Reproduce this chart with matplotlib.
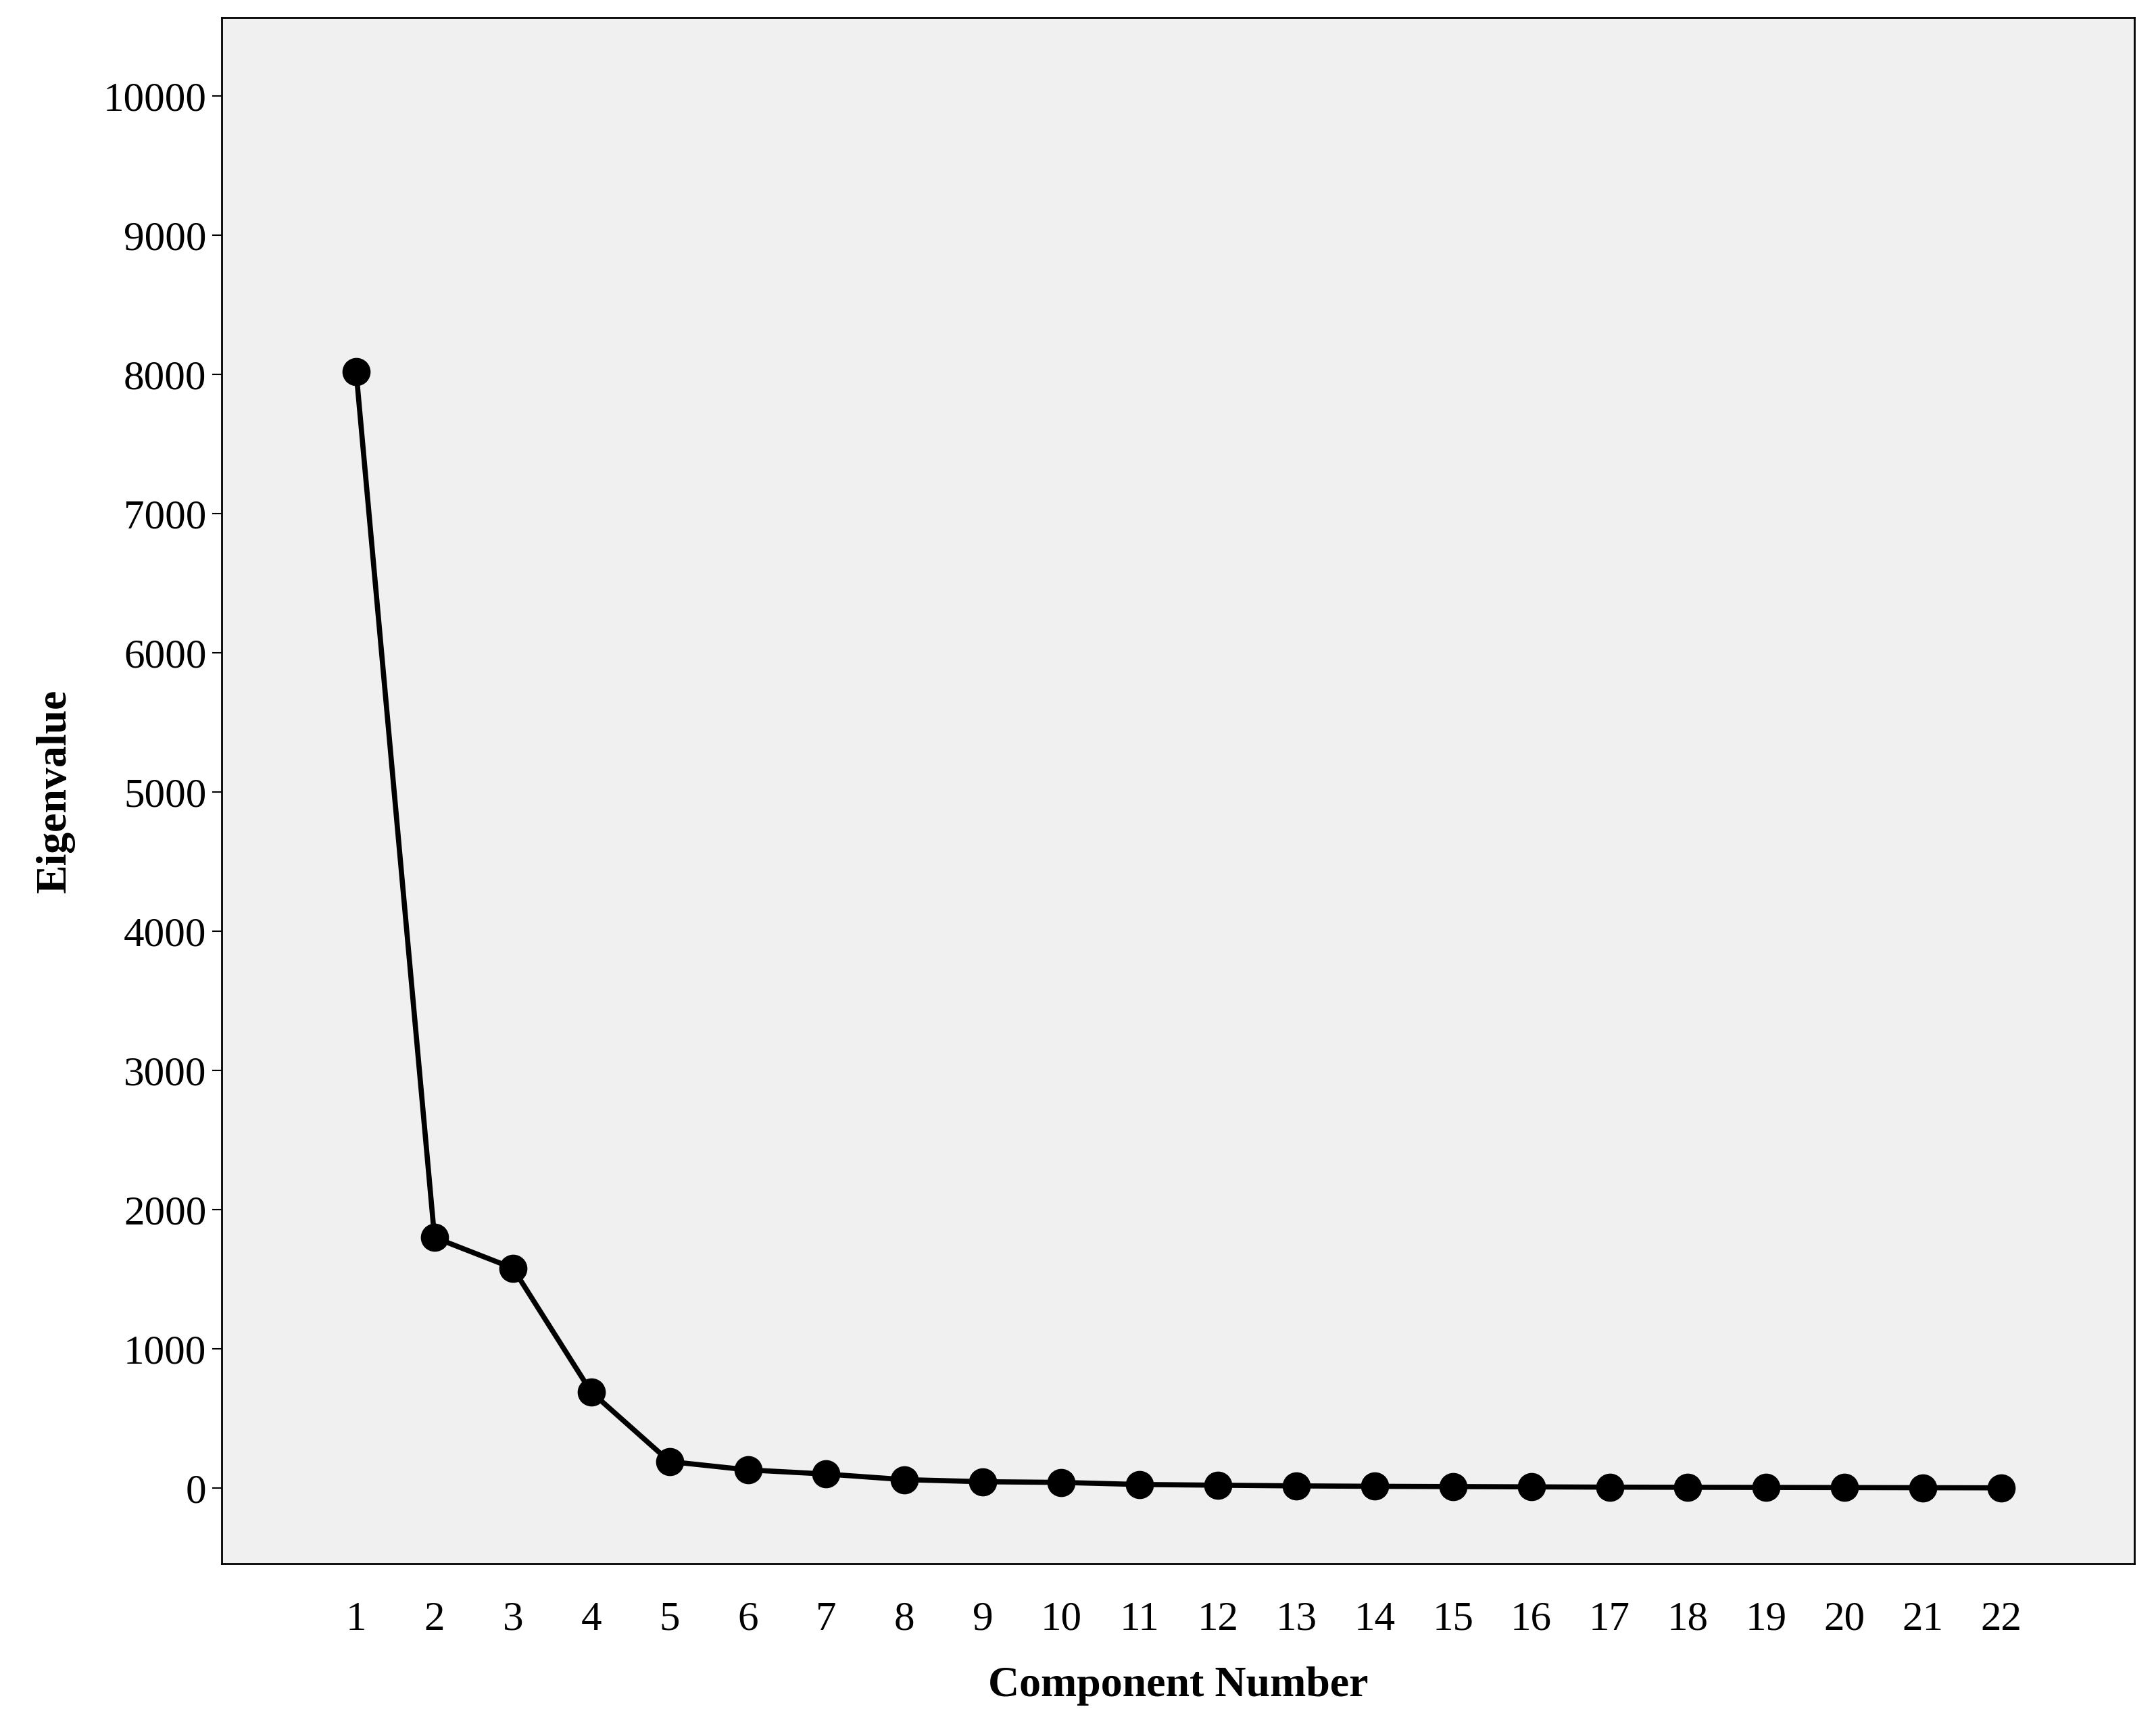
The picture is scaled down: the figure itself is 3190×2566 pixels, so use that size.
import matplotlib
matplotlib.use("Agg")
import matplotlib.pyplot as plt

components = list(range(1, 23))
eigenvalues = [8020, 1800, 1580, 690, 190, 130, 100, 60, 45, 40, 25, 20, 15, 12, 10, 8, 6, 5, 4, 3, 2, 1]
yticks = list(range(0, 10001, 1000))

plt.rcParams['font.family'] = ['Liberation Serif', 'DejaVu Serif']
fig = plt.figure(figsize=(31.9, 25.66), dpi=100)
ax = fig.add_axes([0.1027, 0.0983, 0.8873, 0.8914])
ax.set_facecolor('#f0f0f0')
ax.plot(components, eigenvalues, color='black', lw=5.5, marker='o', markersize=29)
ax.set_xlim(-0.72, 23.7)
ax.set_ylim(-543, 10563)
ax.set_xticks(components)
ax.set_yticks(yticks)
ax.tick_params(axis='y', labelsize=44, width=1.5, length=10, pad=6)
ax.tick_params(axis='x', labelsize=44, width=1.5, length=50, pad=6, direction='in')
ax.tick_params(axis='x', length=0, pad=40)
for s in ax.spines.values():
    s.set_linewidth(2)
ax.set_xlabel('Component Number', fontsize=46, fontweight='bold', labelpad=30)
ax.set_ylabel('Eigenvalue', fontsize=46, fontweight='bold', labelpad=30)
fig.savefig('out.png', dpi=100)
